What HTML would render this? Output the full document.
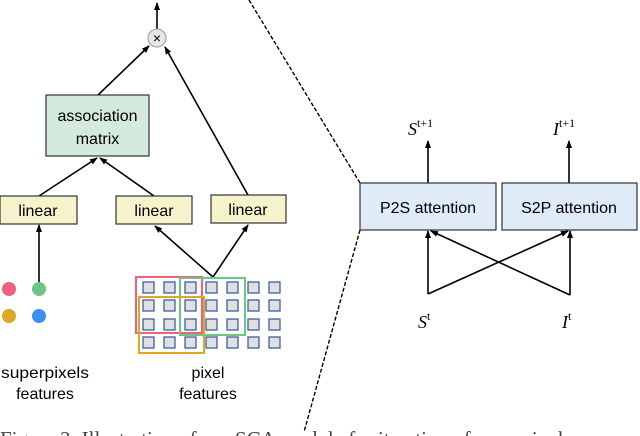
<!DOCTYPE html>
<html><head><style>
body{margin:0;background:#fff;width:640px;height:436px;overflow:hidden;position:relative}
svg{position:absolute;left:0;top:0}
</style></head><body>
<svg width="640" height="436" viewBox="0 0 640 436" xmlns="http://www.w3.org/2000/svg" font-family="'Liberation Sans', sans-serif">
<defs><marker id="a" markerWidth="8" markerHeight="8" refX="7" refY="4" orient="auto" markerUnits="userSpaceOnUse"><path d="M0,1 L8,4 L0,7 z" fill="#000"/></marker></defs>
<g stroke="#000" stroke-width="1.6" fill="none">
<line x1="157" y1="29" x2="157" y2="3" marker-end="url(#a)"/>
<line x1="98" y1="95" x2="149" y2="46" marker-end="url(#a)"/>
<line x1="248" y1="195" x2="165" y2="47" marker-end="url(#a)"/>
<line x1="39" y1="196" x2="97" y2="158" marker-end="url(#a)"/>
<line x1="154" y1="196" x2="100" y2="158" marker-end="url(#a)"/>
<line x1="39" y1="282" x2="39" y2="225" marker-end="url(#a)"/>
<line x1="213" y1="277" x2="155" y2="226" marker-end="url(#a)"/>
<line x1="213" y1="277" x2="248" y2="225" marker-end="url(#a)"/>
<line x1="428" y1="183" x2="428" y2="141" marker-end="url(#a)"/>
<line x1="569" y1="183" x2="569" y2="141" marker-end="url(#a)"/>
<line x1="428" y1="294" x2="428" y2="231" marker-end="url(#a)"/>
<line x1="570" y1="295" x2="570" y2="231" marker-end="url(#a)"/>
<line x1="428" y1="294" x2="568" y2="231" marker-end="url(#a)"/>
<line x1="570" y1="295" x2="431" y2="231" marker-end="url(#a)"/>
</g>
<g stroke="#000" stroke-width="1.4" stroke-dasharray="4,2" fill="none">
<line x1="249" y1="0" x2="360" y2="183"/>
<line x1="360" y1="230" x2="304" y2="432"/>
</g>
<circle cx="157" cy="38" r="9" fill="#e6e6e6" stroke="#999" stroke-width="1"/>
<text x="157" y="43" font-size="14" text-anchor="middle">×</text>
<rect x="46" y="95" width="103" height="61" fill="#d3eadd" stroke="#333" stroke-width="1.2"/>
<text x="97.5" y="121" font-size="16" text-anchor="middle">association</text>
<text x="97.5" y="144" font-size="16" text-anchor="middle">matrix</text>
<g fill="#f5f2cc" stroke="#333" stroke-width="1.2">
<rect x="0" y="196" width="77" height="28"/>
<rect x="116" y="196" width="76" height="28"/>
<rect x="211" y="195" width="75" height="28"/>
</g>
<g font-size="16" text-anchor="middle">
<text x="38" y="216">linear</text><text x="154" y="216">linear</text><text x="248" y="215">linear</text>
<text x="1" y="378" text-anchor="start" textLength="88" lengthAdjust="spacingAndGlyphs">superpixels</text><text x="45" y="399">features</text>
<text x="208" y="378">pixel</text><text x="208" y="399">features</text>
</g>
<circle cx="9" cy="289" r="7" fill="#f0607a"/>
<circle cx="39" cy="289" r="7" fill="#6cc785"/>
<circle cx="9" cy="316" r="7" fill="#dfa726"/>
<circle cx="39" cy="316" r="7" fill="#3b8ff0"/>
<g fill="#e0e0e0" stroke="#3e5fa0" stroke-width="1.3">
<g id="r"><rect x="143" y="282" width="11" height="11"/><rect x="164" y="282" width="11" height="11"/><rect x="185" y="282" width="11" height="11"/><rect x="206" y="282" width="11" height="11"/><rect x="227" y="282" width="11" height="11"/><rect x="248" y="282" width="11" height="11"/><rect x="269" y="282" width="11" height="11"/></g>
<use href="#r" y="18"/><use href="#r" y="37"/><use href="#r" y="55"/>
</g>
<g fill="none" stroke-width="2">
<rect x="136" y="277" width="66" height="56" stroke="#f0607a"/>
<rect x="180" y="278" width="65" height="57" stroke="#6cc785"/>
<rect x="139" y="297" width="65" height="56" stroke="#dfa726"/>
</g>
<rect x="360" y="183" width="136" height="47" fill="#dfebf7" stroke="#333" stroke-width="1.2"/>
<rect x="502" y="183" width="135" height="47" fill="#dfebf7" stroke="#333" stroke-width="1.2"/>
<text x="428" y="213" font-size="16" text-anchor="middle">P2S attention</text>
<text x="569" y="213" font-size="16" text-anchor="middle">S2P attention</text>
<g font-family="'Liberation Serif', serif" font-style="italic" font-size="18">
<text x="408" y="135">S<tspan font-size="12" font-style="normal" dy="-8">t+1</tspan></text>
<text x="553" y="135">I<tspan font-size="12" font-style="normal" dy="-8">t+1</tspan></text>
<text x="418" y="328">S<tspan font-size="12" font-style="normal" dy="-8">t</tspan></text>
<text x="562" y="328">I<tspan font-size="12" font-style="normal" dy="-8">t</tspan></text>
</g>
<text x="0" y="446" font-family="'Liberation Serif', serif" font-size="21" fill="#444">Figure 2: Illustration of our SCA module for iteration of superpixels</text>
</svg>
</body></html>
